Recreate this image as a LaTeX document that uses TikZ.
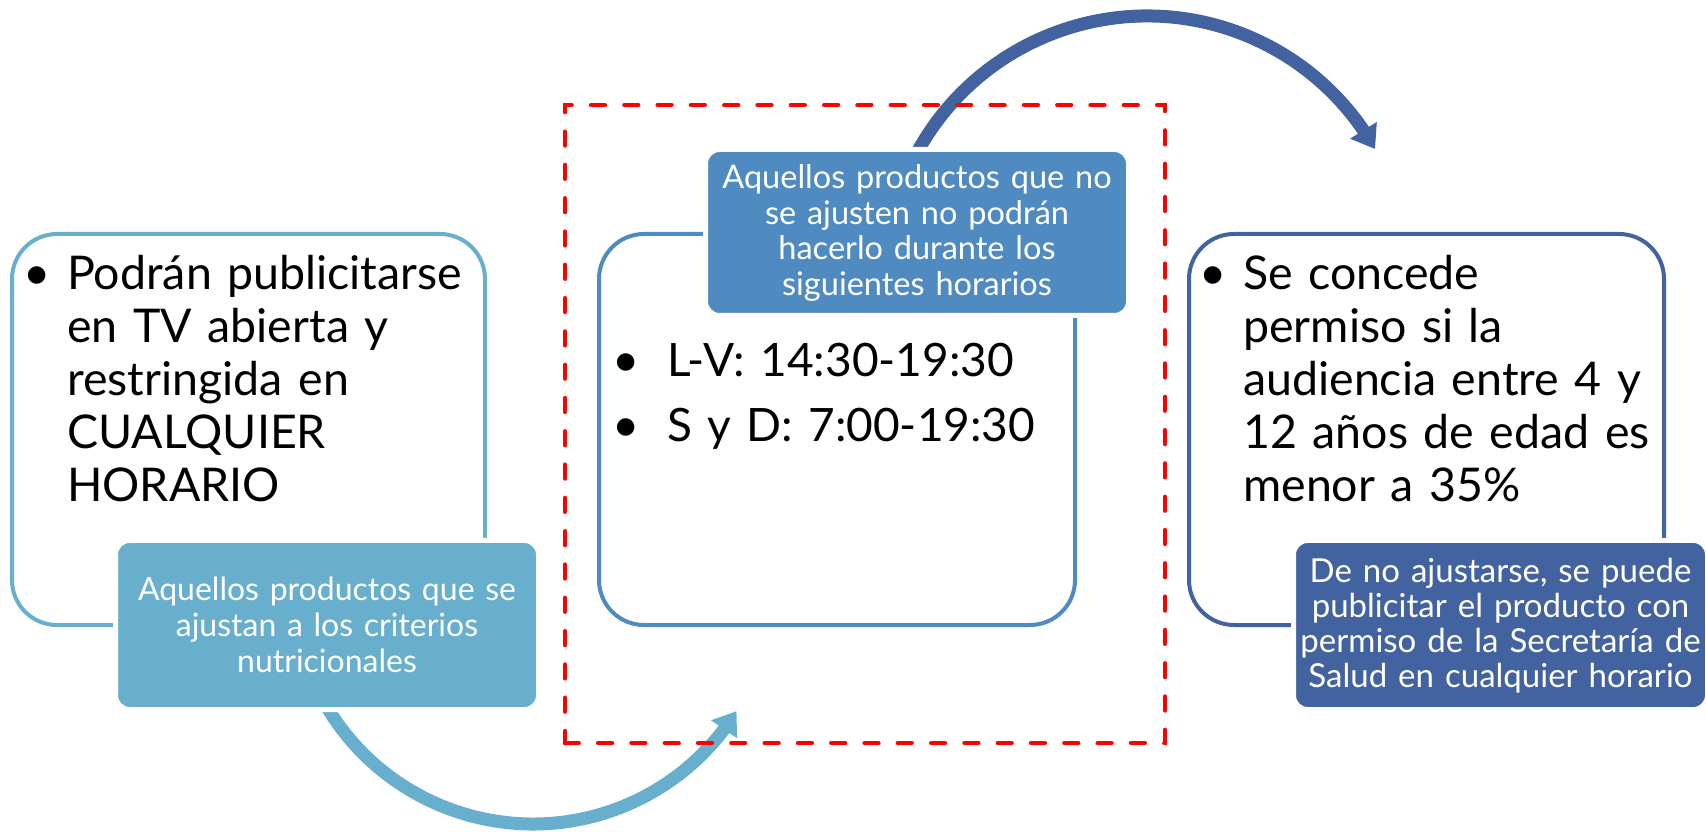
\documentclass[tikz,border=0pt]{standalone}
\usepackage{fontspec}
\setmainfont{Lato}
\usetikzlibrary{arrows.meta,bending}
\definecolor{cA}{RGB}{104,175,206}
\definecolor{cB}{RGB}{79,138,192}
\definecolor{cC}{RGB}{66,99,160}
\begin{document}
\begin{tikzpicture}[x=1pt,y=1pt,
  box/.style={draw=#1, line width=4pt, rounded corners=45pt, fill=white, inner sep=0pt},
  lab/.style={fill=#1, draw=white, line width=5pt, rounded corners=14pt, inner sep=0pt},
  big/.style={inner sep=0pt, text width=440pt, align=left, font=\fontsize{46.5}{53}\selectfont, anchor=base west},
  mid/.style={inner sep=0pt, text width=440pt, align=left, font=\fontsize{46}{65}\selectfont, anchor=base west},
  dot/.style={inner sep=0pt, anchor=base, font=\fontsize{47}{53}\selectfont},
  small/.style={inner sep=0pt, text width=430pt, align=center, text=white, anchor=base},
  arr/.style={draw=#1, line width=13pt, -{Triangle[width=30pt,length=22pt]}},
  frame/.style={draw=red, line width=4.7pt, line cap=round, dash pattern=on 13.6pt off 19.7pt}
]
\useasboundingbox (0,0) rectangle (1706,831);

% arrows
\coordinate (a1s) at (315.5,145.6);
\draw[arr=cA] (a1s) arc[start angle=205, end angle=328, radius=240pt] coordinate (a1e);
\coordinate (a2s) at (915.7,676.0);
\draw[arr=cC] (a2s) arc[start angle=152, end angle=29.5, radius=262pt] coordinate (a2e);

% boxes
\node[box=cA, minimum width=473pt, minimum height=391pt] (b1) at (248.5,401.5) {};
\node[box=cB, minimum width=476pt, minimum height=391pt] (b2) at (837,401.5) {};
\node[box=cC, minimum width=475pt, minimum height=391pt] (b3) at (1426.5,401.5) {};

% labels
\node[lab=cA, minimum width=423pt, minimum height=169pt] (l1) at (327,206) {};
\node[lab=cB, minimum width=423pt, minimum height=166pt] (l2) at (917,598.5) {};
\node[lab=cC, minimum width=414pt, minimum height=169pt] (l3) at (1500.5,206) {};

% box texts
\node[dot] (d1) at (37,541) {•};
\node[big] (t1) at (67,541) {Podrán publicitarse\\en TV abierta y\\restringida en\\CUALQUIER\\HORARIO};
\node[dot] (d2a) at (626,454) {•};
\node[dot] (d2b) at (626,389) {•};
\node[mid] (t2) at (667,454) {L-V: 14:30-19:30\\S y D: 7:00-19:30};
\node[dot] (d3) at (1213,541) {•};
\node[big] (t3) at (1243,541) {Se concede\\permiso si la\\audiencia entre 4 y\\12 años de edad es\\menor a 35\%};

% label texts
\node[small, font=\fontsize{32}{36}\selectfont] (s1) at (327,231) {Aquellos productos que se\\ajustan a los criterios\\nutricionales};
\node[small, font=\fontsize{32.5}{35.5}\selectfont] (s2) at (917,642) {Aquellos productos que no\\se ajusten no podrán\\hacerlo durante los\\siguientes horarios};
\node[small, font=\fontsize{33}{35}\selectfont] (s3) at (1500.5,249) {De no ajustarse, se puede\\publicitar el producto con\\permiso de la Secretaría de\\Salud en cualquier horario};

% dashed frame
\coordinate (f1) at (565,726);
\coordinate (f2) at (1165,88);
\draw[frame] (f1 |- f2) -- (f2) -- (f2 |- f1) -- (f1) -- cycle;
\end{tikzpicture}
\end{document}
